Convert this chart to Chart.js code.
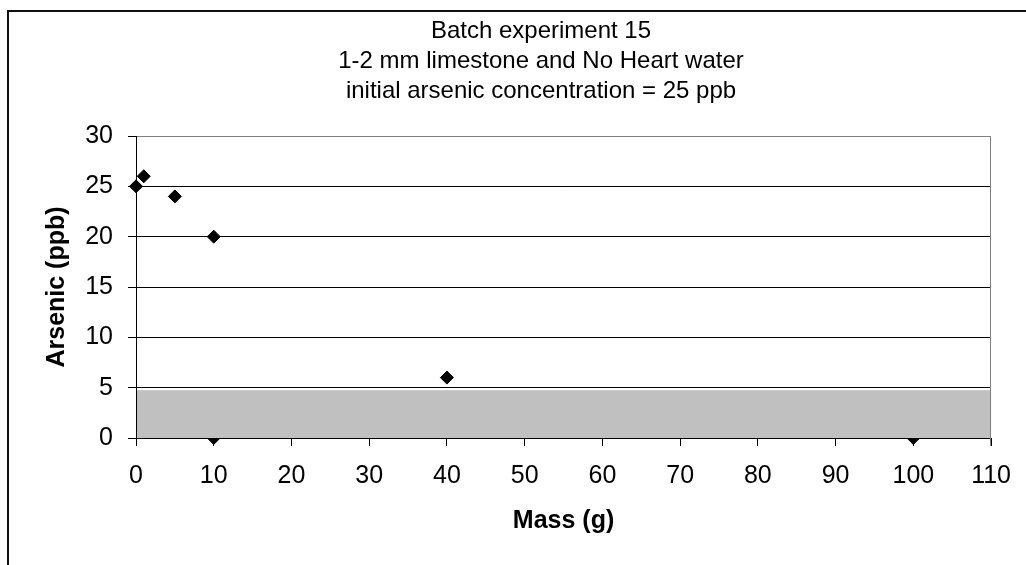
<!DOCTYPE html>
<html><head><meta charset="utf-8">
<script src="https://cdn.jsdelivr.net/npm/chart.js@4/dist/chart.umd.min.js"></script>
<style>
html,body{margin:0;padding:0;background:#fff;}
#wrap{position:relative;width:1026px;height:565px;overflow:hidden;background:#fff;}
#frame{position:absolute;left:7px;top:10px;width:1100px;height:700px;border:2px solid #111;pointer-events:none;}
canvas{position:absolute;left:0;top:0;}
</style></head><body>
<div id="wrap"><canvas id="c" width="1026" height="565"></canvas><div id="frame"></div></div>
<script>
// ---- data ----
const massG = [0, 1, 5, 10, 10, 40, 100];
const arsenicPpb = [25, 26, 24, 20, 0, 6, 0];
const titleLines = ["Batch experiment 15", "1-2 mm limestone and No Heart water", "initial arsenic concentration = 25 ppb"];
const xAxisTitle = "Mass (g)";
const yAxisTitle = "Arsenic (ppb)";
const xTickRange = [0, 110, 10];   // min, max, step
const yTickRange = [0, 30, 5];     // min, max, step
const shadedBandPpb = [0, 4.75];   // grey band (low, high)

const FONT = "'Liberation Sans', Arial, sans-serif";

// Chart title, centred on the whole chart object (whose frame runs past the right edge)
const titlePlugin = {
  id: 'chartTitle',
  afterDraw(chart) {
    const ctx = chart.ctx;
    ctx.save();
    ctx.fillStyle = '#000';
    ctx.font = "24px " + FONT;
    ctx.textAlign = 'center';
    ctx.textBaseline = 'middle';
    titleLines.forEach((t, i) => ctx.fillText(t, 541, 31 + i * 30));
    ctx.restore();
  }
};

const bandPlugin = {
  id: 'band',
  afterDatasetsDraw(chart) {
    const {ctx, chartArea, scales} = chart;
    const y0 = scales.y.getPixelForValue(shadedBandPpb[0]);
    const y1 = scales.y.getPixelForValue(shadedBandPpb[1]);
    ctx.save();
    ctx.fillStyle = '#c0c0c0';
    ctx.fillRect(chartArea.left, y1, chartArea.right - chartArea.left, y0 - y1);
    ctx.strokeStyle = '#000';
    ctx.lineWidth = 1;
    ctx.beginPath();
    ctx.moveTo(chartArea.left, Math.round(y0) + 0.5);
    ctx.lineTo(chartArea.right, Math.round(y0) + 0.5);
    ctx.moveTo(Math.round(chartArea.left) + 0.5, chartArea.top);
    ctx.lineTo(Math.round(chartArea.left) + 0.5, y0);
    ctx.stroke();
    ctx.strokeStyle = '#808080';
    ctx.beginPath();
    ctx.moveTo(Math.round(chartArea.right) - 0.5, chartArea.top);
    ctx.lineTo(Math.round(chartArea.right) - 0.5, y0 + 8);
    ctx.stroke();
    ctx.restore();
  }
};

new Chart(document.getElementById('c'), {
  type: 'scatter',
  data: {
    datasets: [{
      data: massG.map((x, i) => ({x, y: arsenicPpb[i]})),
      pointStyle: 'rectRot',
      pointRadius: 6.5,
      pointBackgroundColor: '#000',
      pointBorderColor: '#000',
      pointBorderWidth: 1,
      clip: false
    }]
  },
  options: {
    responsive: false,
    animation: false,
    devicePixelRatio: 1,
    layout: {padding: {left: 0, right: 33, top: 136, bottom: 0}},
    plugins: {
      legend: {display: false},
      tooltip: {enabled: false},
      title: {display: false}
    },
    scales: {
      x: {
        type: 'linear',
        min: xTickRange[0], max: xTickRange[1],
        afterFit(s) { s.height = 127; },
        ticks: {stepSize: xTickRange[2], color: '#000', padding: 15,
          font: {family: FONT, size: 25}, maxRotation: 0},
        grid: {
          drawOnChartArea: false,
          tickLength: 8,
          color: '#000',
          tickColor: '#000'
        },
        border: {color: '#000', width: 1},
        title: {display: true, text: xAxisTitle, color: '#000',
          font: {family: FONT, size: 25, weight: 'bold', lineHeight: 1.2},
          padding: {top: 0, bottom: 29}}
      },
      y: {
        type: 'linear',
        min: yTickRange[0], max: yTickRange[1],
        afterFit(s) { s.width = 136; },
        ticks: {stepSize: yTickRange[2], color: '#000', padding: 15,
          font: {family: FONT, size: 25}},
        grid: {
          tickLength: 8,
          color: (c) => c.tick && c.tick.value === yTickRange[1] ? '#808080' : '#000',
          tickColor: '#000'
        },
        border: {color: '#000', width: 1},
        title: {display: true, text: yAxisTitle, color: '#000',
          font: {family: FONT, size: 25, weight: 'bold', lineHeight: 1.2},
          padding: {top: 42, bottom: 0}}
      }
    }
  },
  plugins: [bandPlugin, titlePlugin]
});
</script>
</body></html>
